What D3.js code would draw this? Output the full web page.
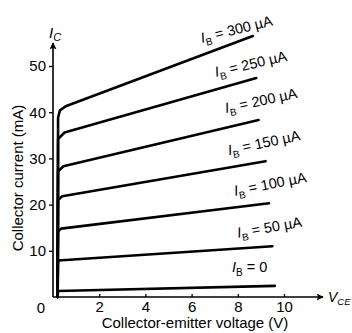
<!DOCTYPE html>
<html>
<head>
<meta charset="utf-8">
<script src="https://cdn.jsdelivr.net/npm/d3@7"></script>
<style>
  body { margin: 0; background: #fff; }
  svg text { font-family: "Liberation Sans", Arial, Helvetica, sans-serif; fill: #000; }
</style>
</head>
<body>
<div id="chart-area"></div>
<script>
// base current of each curve (uA)
const baseCurrents = [0, 50, 100, 150, 200, 250, 300];

// each curve: [Vce (V), Ic (mA)]
const curve0   = [[0.2, 0], [0.22, 1.3], [9.6, 2.4]];
const curve50  = [[0.2, 0], [0.22, 7.9], [9.5, 11.0]];
const curve100 = [[0.2, 0], [0.22, 14.2], [0.35, 14.8], [9.35, 20.3]];
const curve150 = [[0.2, 0], [0.22, 21.0], [0.4, 21.8], [9.2, 29.4]];
const curve200 = [[0.2, 0], [0.22, 27.2], [0.45, 28.3], [8.9, 38.3]];
const curve250 = [[0.2, 0], [0.22, 34.2], [0.5, 35.6], [8.8, 47.4]];
const curve300 = [[0.2, 0], [0.22, 38.8], [0.3, 40.4], [0.55, 41.3], [8.65, 56.5]];
const curves = [curve0, curve50, curve100, curve150, curve200, curve250, curve300];

const xTicks = [2, 4, 6, 8, 10];
const yTicks = [10, 20, 30, 40, 50];

const xTitle = "Collector-emitter voltage (V)";
const yTitle = "Collector current (mA)";

// label anchors, in data units, and tilt
const labelAt = [[7.75, 5.4], [8.01, 12.8], [7.88, 21.9], [7.62, 30.7], [7.49, 39.8], [7.06, 47.6], [6.45, 55.0]];
const labelTilt = [0, -10, -11, -12, -12, -13, -14];

const W = 352, H = 333;
const FONT = "15px";
const svg = d3.select("#chart-area").append("svg")
    .attr("width", W).attr("height", H);

const xScale = d3.scaleLinear().domain([0, 10]).range([53, 284]);
const yScale = d3.scaleLinear().domain([0, 50]).range([297, 66]);

// arrow heads
const defs = svg.append("defs");
defs.append("marker")
    .attr("id", "arrow")
    .attr("viewBox", "0 0 10 10")
    .attr("refX", 9).attr("refY", 5)
    .attr("markerWidth", 9).attr("markerHeight", 7)
    .attr("markerUnits", "userSpaceOnUse")
    .attr("orient", "auto")
  .append("path")
    .attr("d", "M0,0 L10,5 L0,10 L2,5 Z")
    .attr("fill", "#000");

// axis lines
svg.append("line")
    .attr("x1", xScale(0)).attr("y1", yScale(0))
    .attr("x2", 323).attr("y2", yScale(0))
    .attr("stroke", "#000").attr("stroke-width", 1.6)
    .attr("marker-end", "url(#arrow)");
svg.append("line")
    .attr("x1", xScale(0)).attr("y1", yScale(0))
    .attr("x2", xScale(0)).attr("y2", 43)
    .attr("stroke", "#000").attr("stroke-width", 1.6)
    .attr("marker-end", "url(#arrow)");

// x axis ticks (pointing up)
const xAxis = svg.append("g")
    .attr("transform", `translate(0, ${yScale(0)})`)
    .call(d3.axisBottom(xScale).tickValues(xTicks).tickSizeInner(-3).tickSizeOuter(0).tickPadding(4.5));
// y axis ticks
const yAxis = svg.append("g")
    .attr("transform", `translate(${xScale(0)}, 0)`)
    .call(d3.axisLeft(yScale).tickValues(yTicks).tickSize(4).tickPadding(3));

[xAxis, yAxis].forEach(ax => {
    ax.select(".domain").remove();
    ax.selectAll(".tick line").attr("stroke", "#000").attr("stroke-width", 1.3);
    ax.selectAll(".tick text")
        .attr("font-family", null)
        .attr("fill", "#000")
        .style("font-size", FONT);
});

// origin label
svg.append("text")
    .attr("x", xScale(0) - 12).attr("y", 313)
    .attr("text-anchor", "middle")
    .style("font-size", FONT)
    .text("0");

// curves
const line = d3.line()
    .x(d => xScale(d[0]))
    .y(d => yScale(d[1]));

svg.append("g").selectAll("path")
    .data(curves)
    .join("path")
    .attr("d", line)
    .attr("fill", "none")
    .attr("stroke", "#000")
    .attr("stroke-width", 2.6)
    .attr("stroke-linejoin", "round")
    .attr("stroke-linecap", "round");

// curve labels
baseCurrents.forEach((ib, i) => {
    const px = xScale(labelAt[i][0]), py = yScale(labelAt[i][1]);
    const t = svg.append("text")
        .attr("transform", `translate(${px},${py}) rotate(${labelTilt[i]})`)
        .style("font-size", "14.5px");
    t.append("tspan").attr("font-style", "italic").text("I");
    t.append("tspan").attr("dy", 4).style("font-size", "10px").text("B");
    t.append("tspan").attr("dy", -4).text(ib === 0 ? " = 0" : ` = ${ib} \u00B5A`);
});

// axis symbols
const ic = svg.append("text").attr("x", 49).attr("y", 38).style("font-size", FONT);
ic.append("tspan").attr("font-style", "italic").text("I");
ic.append("tspan").attr("dy", 3).attr("font-style", "italic").style("font-size", "11px").text("C");

const vce = svg.append("text").attr("x", 328).attr("y", 302).style("font-size", "14px");
vce.append("tspan").attr("font-style", "italic").text("V");
vce.append("tspan").attr("dy", 3).attr("font-style", "italic").style("font-size", "9.5px").text("CE");

// axis titles
svg.append("text")
    .attr("x", 195).attr("y", 328)
    .attr("text-anchor", "middle")
    .style("font-size", FONT)
    .text(xTitle);

svg.append("text")
    .attr("transform", `translate(23, 178) rotate(-90)`)
    .attr("text-anchor", "middle")
    .style("font-size", FONT)
    .text(yTitle);
</script>
</body>
</html>
